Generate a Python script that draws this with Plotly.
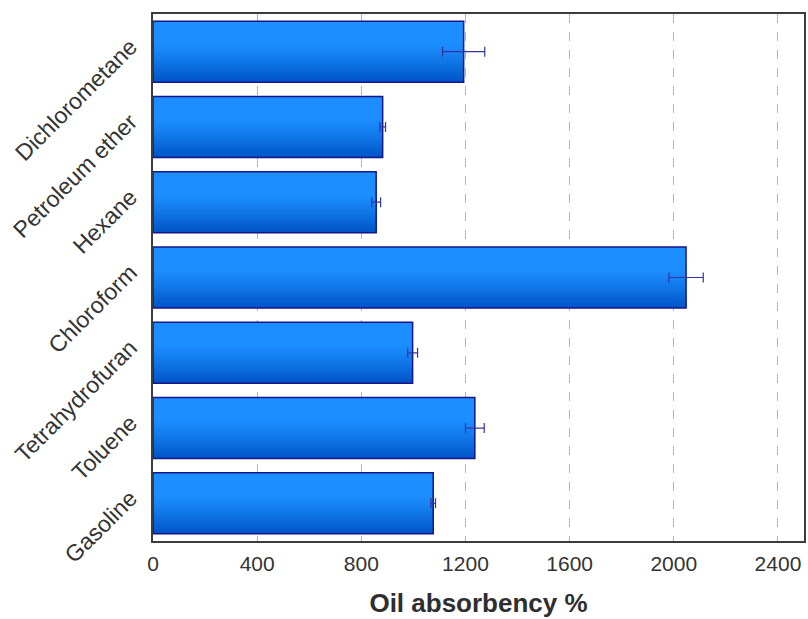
import plotly.graph_objects as go

solvents = ["Dichlorometane", "Petroleum ether", "Hexane", "Chloroform",
            "Tetrahydrofuran", "Toluene", "Gasoline"]
absorbency = [1193, 882, 857, 2047, 997, 1236, 1076]
error = [81, 11, 17, 66, 19, 36, 9]
x_ticks = [0, 400, 800, 1200, 1600, 2000, 2400]

BAR_WIDTH = 0.81
N_STEPS = 24
TOP_RGB = (28, 142, 255)
BOT_RGB = (0, 86, 200)


def shade(t):
    # keep the upper half bright, darken toward the bottom edge
    s = max(0.0, (t - 0.35) / 0.65) ** 1.2
    r, g, b = (round(a + (c - a) * s) for a, c in zip(TOP_RGB, BOT_RGB))
    return f"rgb({r},{g},{b})"


fig = go.Figure()

# vertical gradient: each layer starts lower and runs to the bar's bottom edge
step = BAR_WIDTH / N_STEPS
for i in range(N_STEPS):
    fig.add_trace(go.Bar(
        y=solvents, x=absorbency, orientation="h",
        offset=-BAR_WIDTH / 2 + i * step, width=BAR_WIDTH - i * step,
        marker=dict(color=shade(i / (N_STEPS - 1)), line=dict(width=0)),
        hoverinfo="skip", showlegend=False,
    ))

# outline and error bars
fig.add_trace(go.Bar(
    y=solvents, x=absorbency, orientation="h",
    offset=-BAR_WIDTH / 2, width=BAR_WIDTH,
    marker=dict(color="rgba(0,0,0,0)", line=dict(color="#16168a", width=1.5)),
    error_x=dict(type="data", array=error, color="#3434a0", thickness=1.2, width=5),
    showlegend=False,
))

fig.update_layout(
    width=808, height=619,
    margin=dict(l=153, r=2, t=14, b=78),
    barmode="overlay",
    plot_bgcolor="white", paper_bgcolor="white",
    font=dict(family="Arial, Liberation Sans, sans-serif", color="#333333"),
    xaxis=dict(
        range=[0, 2500], tickvals=x_ticks, ticktext=[str(v) for v in x_ticks],
        showgrid=True, gridcolor="#b4b4b4", griddash="dash", gridwidth=1,
        zeroline=False, showline=True, linecolor="#3c3c3c", linewidth=2, mirror=True,
        ticks="", ticklabelstandoff=3, tickfont=dict(size=21, color="#333333"),
        title=dict(text="<b>Oil absorbency %</b>", font=dict(size=26, color="#2e2e2e"),
                   standoff=20),
    ),
    yaxis=dict(
        categoryorder="array", categoryarray=solvents, autorange="reversed",
        showgrid=False, zeroline=False, showline=True, linecolor="#3c3c3c",
        linewidth=2, mirror=True, ticks="", ticklabelstandoff=16,
        ticklabelshift=8,
        tickangle=-45, tickfont=dict(size=23, color="#333333"),
    ),
)

fig.write_html("out.html")
